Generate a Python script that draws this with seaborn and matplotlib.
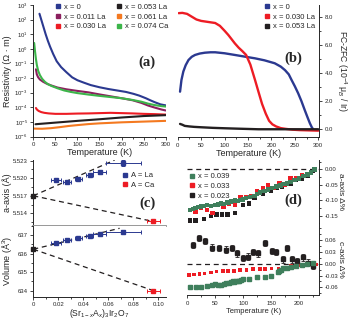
import numpy as np
import pandas as pd
import matplotlib
matplotlib.use("Agg")
import matplotlib.pyplot as plt
from matplotlib.lines import Line2D
from matplotlib.ticker import MultipleLocator, FixedLocator, NullLocator
import seaborn as sns

sns.set_style("ticks")
plt.rcParams['font.family'] = ['Liberation Sans', 'DejaVu Sans']
plt.rcParams['mathtext.fontset'] = 'custom'
plt.rcParams['mathtext.rm'] = 'Liberation Sans'
plt.rcParams['mathtext.it'] = 'Liberation Sans:italic'
plt.rcParams['axes.unicode_minus'] = False

NAVY = "#2b3990"
PURPLE = "#8b1f5e"
RED = "#ed1c24"
BLACK = "#231f20"
ORANGE = "#f47920"
GREEN = "#3cb54a"
DGREEN = "#3f7f5c"

# ---- (a) resistivity, log10(rho / Ohm m) vs T ----
T_x0 = [14, 18, 23, 28, 33, 38, 45, 53, 63, 75, 88, 100, 115, 130, 150, 170, 190, 210, 227, 240, 255, 265, 275, 288, 300]
lr_x0 = [2.4, 2.0, 1.5, 1.0, 0.55, 0.15, -0.35, -0.85, -1.25, -1.6, -1.95, -2.15, -2.32, -2.48, -2.63, -2.75, -2.85, -2.95, -3.08, -3.2, -3.38, -3.52, -3.65, -3.8, -3.87]
T_x011 = [6, 8, 11, 15, 22, 30, 40, 55, 75, 100, 125, 150, 175, 200, 225, 245, 260, 275, 290, 300]
lr_x011 = [-1.4, -1.75, -1.95, -2.1, -2.25, -2.38, -2.5, -2.65, -2.77, -2.88, -2.98, -3.12, -3.25, -3.38, -3.52, -3.7, -3.88, -4.02, -4.15, -4.22]
T_x030 = [6, 8, 12, 18, 25, 35, 50, 75, 100, 125, 150, 175, 200, 225, 250, 275, 300]
lr_x030 = [-4.05, -4.15, -4.25, -4.33, -4.38, -4.42, -4.45, -4.45, -4.43, -4.42, -4.4, -4.38, -4.4, -4.42, -4.45, -4.47, -4.5]
T_x053 = [5, 50, 100, 150, 200, 250, 300]
lr_x053 = [-5.16, -5.05, -4.93, -4.82, -4.7, -4.6, -4.54]
T_x061 = [2, 20, 40, 60, 80, 100, 125, 150, 200, 250, 300]
lr_x061 = [-5.46, -5.47, -5.43, -5.36, -5.28, -5.22, -5.15, -5.1, -5.03, -4.98, -4.93]
T_x074 = [2, 4, 6, 8, 11, 15, 20, 26, 33, 42, 55, 70, 85, 100, 125, 150, 175, 200, 225, 245, 260, 275, 290, 300]
lr_x074 = [0.4, -0.2, -0.7, -1.1, -1.5, -1.8, -2.05, -2.25, -2.42, -2.55, -2.7, -2.85, -2.95, -3.03, -3.13, -3.22, -3.3, -3.38, -3.5, -3.62, -3.75, -3.85, -3.92, -3.95]
labels_a = ["x = 0", "x = 0.011 La", "x = 0.030 La", "x = 0.053 La", "x = 0.061 La", "x = 0.074 Ca"]

# ---- (b) FC-ZFC ----
Tb_x0 = [5, 8, 12, 17, 23, 30, 37, 47, 58, 70, 80, 100, 122, 145, 165, 185, 207, 220, 229, 237, 243, 250, 257, 264, 271, 277, 282, 286, 289]
mb_x0 = [2.67, 3.5, 4.1, 4.55, 4.92, 5.15, 5.28, 5.38, 5.44, 5.47, 5.47, 5.4, 5.28, 5.15, 5.04, 4.9, 4.69, 4.45, 4.2, 3.9, 3.5, 3.05, 2.56, 2.0, 1.37, 0.85, 0.43, 0.15, 0.0]
Tb_x030 = [2, 10, 20, 30, 40, 50, 60, 70, 80, 90, 100, 108, 115, 122, 130, 138, 146, 155, 165, 172, 180, 188, 195, 202, 210, 220, 230, 245, 260, 280, 300]
mb_x030 = [8.25, 8.27, 8.2, 8.0, 7.8, 7.7, 7.65, 7.6, 7.55, 7.35, 7.0, 6.7, 6.4, 6.1, 5.8, 5.55, 5.28, 4.6, 3.5, 2.7, 1.8, 1.1, 0.6, 0.35, 0.2, 0.08, 0.03, -0.03, -0.06, -0.08, -0.1]
Tb_x053 = [5, 10, 15, 25, 35, 51, 75, 101, 130, 172, 220, 260, 300]
mb_x053 = [0.38, 0.32, 0.24, 0.2, 0.17, 0.14, 0.1, 0.07, 0.04, 0.0, 0.0, 0.0, 0.0]
labels_b = ["x = 0", "x = 0.030 La", "x = 0.053 La"]

# ---- (c) lattice vs doping ----
xLa = [0.018, 0.027, 0.036, 0.045, 0.053, 0.072]
xLa_err = [0.004, 0.003, 0.003, 0.003, 0.005, 0.014]
aLa = [5.5197, 5.5194, 5.5198, 5.5205, 5.5210, 5.5226]
aLa_err = [0.0002, 0.0002, 0.0002, 0.0002, 0.0002, 0.0005]
vLa = [636.55, 636.73, 636.86, 636.96, 637.05, 637.18]
vLa_err = [0.05, 0.05, 0.05, 0.05, 0.05, 0.08]
xCa = [0.096]
xCa_err = [0.005]
aCa = [5.5126]
aCa_err = [0.0003]
vCa = [634.0]
vCa_err = [0.06]
a0, v0 = 5.5170, 636.23
a_fit_La = [5.5170, 5.5231]
v_fit_La = [636.23, 637.36]
x_fit_La = [0.0, 0.065]
x_fit_La_v = [0.0, 0.069]

# ---- (d) lattice change vs T ----
Td_g = [5, 10, 15, 20, 25, 30, 35, 42, 50, 55, 60, 65, 72, 78, 85, 90, 95, 100, 105, 112, 120, 125, 130, 138, 145, 152, 160, 167, 172, 178, 185, 192, 200, 208, 215, 222, 228]
ad_g = [-0.13, -0.128, -0.125, -0.122, -0.12, -0.118, -0.115, -0.117, -0.115, -0.113, -0.11, -0.112, -0.107, -0.104, -0.1, -0.102, -0.098, -0.097, -0.093, -0.088, -0.085, -0.08, -0.075, -0.07, -0.065, -0.06, -0.055, -0.052, -0.048, -0.045, -0.04, -0.035, -0.03, -0.022, -0.017, -0.01, 0.0]
Td_r = [5, 15, 25, 35, 45, 55, 65, 75, 85, 95, 105, 115, 125, 135, 145, 155, 165, 175, 185, 195, 205, 215, 228]
ad_r = [-0.13, -0.135, -0.125, -0.13, -0.14, -0.115, -0.12, -0.11, -0.115, -0.09, -0.09, -0.085, -0.07, -0.06, -0.05, -0.06, -0.045, -0.05, -0.03, -0.03, -0.02, -0.015, 0.0]
Td_k = [5, 15, 30, 42, 52, 62, 72, 85, 100, 110, 120, 135, 150, 160, 170, 185, 195, 205, 215, 225]
ad_k = [-0.165, -0.165, -0.16, -0.15, -0.145, -0.145, -0.145, -0.14, -0.115, -0.11, -0.09, -0.08, -0.07, -0.06, -0.055, -0.045, -0.035, -0.03, -0.02, -0.005]

Tc_k = [11, 21, 31, 45, 57, 69, 80, 89, 100, 109, 118, 126, 140, 151, 158, 171, 179, 188, 197, 207, 216, 225]
cd_k = [0.047, 0.066, 0.057, 0.041, 0.04, 0.036, 0.039, 0.026, 0.014, 0.018, 0.029, 0.026, 0.052, 0.033, 0.03, 0.011, 0.039, 0.011, 0.007, 0.016, 0.003, -0.006]
Tc_r = [3, 12, 22, 31, 42, 52, 64, 73, 84, 94, 106, 118, 130, 139, 151, 163, 174, 186, 198, 210, 222, 230]
cd_r = [-0.029, -0.027, -0.026, -0.025, -0.022, -0.02, -0.019, -0.019, -0.018, -0.016, -0.016, -0.014, -0.014, -0.014, -0.012, -0.012, -0.01, -0.006, -0.003, -0.002, -0.002, -0.002]
Tc_g = [5, 15, 25, 35, 45, 50, 55, 60, 65, 70, 75, 78, 81, 84, 87, 90, 93, 96, 100, 110, 125, 140, 150, 162, 165, 168, 172, 178, 185, 195, 205, 215, 225]
cd_g = [-0.06, -0.058, -0.058, -0.057, -0.055, -0.052, -0.054, -0.055, -0.052, -0.05, -0.05, -0.047, -0.045, -0.047, -0.044, -0.043, -0.045, -0.042, -0.04, -0.038, -0.035, -0.033, -0.03, -0.022, -0.018, -0.015, -0.012, -0.01, -0.008, -0.006, -0.004, 0.0, 0.003]
labels_d = ["x = 0.039", "x = 0.033", "x = 0.023"]

W, H = 350, 319
def rect(x0, y0, x1, y1):
    return [x0 / W, 1 - y1 / H, (x1 - x0) / W, (y1 - y0) / H]

fig = plt.figure(figsize=(3.5, 3.19), dpi=100)
TICK = 4.3
LAB = 6.5

def style(ax):
    ax.tick_params(which='both', direction='out', labelsize=TICK, width=0.6, pad=1.5)
    ax.tick_params(which='major', length=2.5)
    ax.tick_params(which='minor', length=1.5)
    for s in ax.spines.values():
        s.set_linewidth(0.7)

def sq(c, l):
    return Line2D([0], [0], marker='s', ls='none', color=c, ms=3.2, label=l)

# ---------------- (a) ----------------
ax = fig.add_axes(rect(33.3, 5, 165.7, 136.5))
curves = [(T_x0, lr_x0, NAVY), (T_x011, lr_x011, PURPLE), (T_x030, lr_x030, RED),
          (T_x053, lr_x053, BLACK), (T_x061, lr_x061, ORANGE), (T_x074, lr_x074, GREEN)]
for T, lr, c in curves:
    sns.lineplot(x=T, y=10.0 ** np.array(lr), ax=ax, color=c, lw=1.5)
ax.set_yscale('log')
ax.set_ylim(1e-6, 1e3)
ax.set_xlim(0, 300)
ax.yaxis.set_major_locator(FixedLocator(10.0 ** np.arange(-6, 4)))
ax.yaxis.set_minor_locator(NullLocator())
ax.set_yticklabels(["10$^{%d}$" % e for e in range(-6, 4)])
ax.xaxis.set_major_locator(MultipleLocator(50))
ax.xaxis.set_minor_locator(MultipleLocator(25))
sns.despine(ax=ax)
style(ax)
ax.set_xlabel("Temperature (K)", fontsize=LAB, labelpad=1)
ax.set_ylabel("Resistivity (Ω · m)", fontsize=LAB, va='center')
ax.yaxis.set_label_coords(-0.195, 0.5)
ax.legend(handles=[sq(c, l) for (_, _, c), l in zip(curves, labels_a)], ncol=2,
          loc='upper left', bbox_to_anchor=(0.125, 1.05), frameon=False, fontsize=5.5,
          handlelength=0.8, handletextpad=0.4, columnspacing=1.2, labelspacing=0.3,
          borderpad=0.2)
fig.text(147 / W, 1 - 62 / H, "(a)", family='Liberation Serif', weight='bold',
         fontsize=10.5, ha='center', va='center')

# ---------------- (b) ----------------
ax = fig.add_axes(rect(177.7, 5, 319, 137))
bcurves = [(Tb_x0, mb_x0, NAVY), (Tb_x030, mb_x030, RED), (Tb_x053, mb_x053, BLACK)]
for T, m, c in bcurves:
    sns.lineplot(x=T, y=m, ax=ax, color=c, lw=1.7)
ax.set_xlim(0, 301.5)
ax.set_ylim(-0.55, 8.83)
ax.yaxis.tick_right()
ax.yaxis.set_label_position('right')
ax.spines['left'].set_visible(False)
ax.spines['top'].set_visible(False)
ax.xaxis.set_major_locator(MultipleLocator(50))
ax.xaxis.set_minor_locator(MultipleLocator(25))
ax.yaxis.set_major_locator(FixedLocator([0, 2, 4, 6, 8]))
ax.yaxis.set_minor_locator(MultipleLocator(1))
ax.set_yticklabels(["0.0", "2.0", "4.0", "6.0", "8.0"])
style(ax)
ax.set_xlabel("Temperature (K)", fontsize=LAB, labelpad=1)
ax.set_ylabel("FC-ZFC (10$^{-4}$ μ$_B$ / Ir)", fontsize=6.2, rotation=270, va='center')
ax.yaxis.set_label_coords(1.16, 0.5)
ax.legend(handles=[sq(c, l) for (_, _, c), l in zip(bcurves, labels_b)],
          loc='upper left', bbox_to_anchor=(0.57, 1.05), frameon=False, fontsize=5.5,
          handlelength=0.8, handletextpad=0.4, labelspacing=0.3, borderpad=0.2)
fig.text(293 / W, 1 - 58 / H, "(b)", family='Liberation Serif', weight='bold',
         fontsize=10.5, ha='center', va='center')

# ---------------- (c) ----------------
eb = dict(fmt='s', ms=3, capsize=1.3, elinewidth=0.7, capthick=0.7)
ax1 = fig.add_axes(rect(33.3, 160, 165.7, 225.7))
ax2 = fig.add_axes(rect(33.3, 225.7, 165.7, 296.7))
sns.lineplot(x=x_fit_La, y=a_fit_La, ax=ax1, color=BLACK, lw=0.9, linestyle=(0, (4, 3)))
sns.lineplot(x=[0, xCa[0]], y=[a0, aCa[0]], ax=ax1, color=BLACK, lw=0.9, linestyle=(0, (4, 3)))
ax1.errorbar(xLa, aLa, xerr=xLa_err, yerr=aLa_err, color=NAVY, **eb)
ax1.errorbar(xCa, aCa, xerr=xCa_err, yerr=aCa_err, color=RED, **eb)
ax1.plot([0], [a0], 's', color=BLACK, ms=3.5, clip_on=False)
ax1.set_xlim(0, 0.1059)
ax1.set_ylim(5.51188, 5.52312)
ax1.yaxis.set_major_locator(FixedLocator([5.514, 5.517, 5.520, 5.523]))
ax1.yaxis.set_minor_locator(MultipleLocator(0.0015))
ax1.set_yticklabels(["5.514", "5.517", "5.520", "5.523"])
ax1.spines['top'].set_visible(False)
ax1.spines['right'].set_visible(False)
style(ax1)
ax1.spines['bottom'].set_color('#909090')
ax1.spines['bottom'].set_linewidth(1.3)
ax1.tick_params(axis='x', bottom=False, labelbottom=False, which='both')
ax1.set_ylabel("a-axis (Å)", fontsize=LAB, va='center')
ax1.yaxis.set_label_coords(-0.195, 0.5)
ax1.legend(handles=[sq(NAVY, "A = La"), sq(RED, "A = Ca")], loc='upper left',
           bbox_to_anchor=(0.63, 0.9), frameon=False, fontsize=5.5, handlelength=0.8,
           handletextpad=0.4, labelspacing=0.3, borderpad=0.2)
fig.text(148 / W, 1 - 203 / H, "(c)", family='Liberation Serif', weight='bold',
         fontsize=10.5, ha='center', va='center')

sns.lineplot(x=x_fit_La_v, y=v_fit_La, ax=ax2, color=BLACK, lw=0.9, linestyle=(0, (4, 3)))
sns.lineplot(x=[0, xCa[0]], y=[v0, vCa[0]], ax=ax2, color=BLACK, lw=0.9, linestyle=(0, (4, 3)))
ax2.errorbar(xLa, vLa, xerr=xLa_err, yerr=vLa_err, color=NAVY, **eb)
ax2.errorbar(xCa, vCa, xerr=xCa_err, yerr=vCa_err, color=RED, **eb)
ax2.plot([0], [v0], 's', color=BLACK, ms=3.5, clip_on=False)
ax2.set_xlim(0, 0.1059)
ax2.set_ylim(633.67, 637.5)
ax2.yaxis.set_major_locator(FixedLocator([634, 635, 636, 637]))
ax2.yaxis.set_minor_locator(MultipleLocator(0.5))
ax2.xaxis.set_major_locator(FixedLocator([0, 0.02, 0.04, 0.06, 0.08, 0.10]))
ax2.xaxis.set_minor_locator(MultipleLocator(0.01))
ax2.set_xticklabels(["0", "0.02", "0.04", "0.06", "0.08", "0.10"])
ax2.spines['top'].set_visible(False)
ax2.spines['right'].set_visible(False)
style(ax2)
ax2.set_ylabel("Volume (Å$^3$)", fontsize=LAB, va='center')
ax2.yaxis.set_label_coords(-0.195, 0.5)
ax2.set_xlabel("(Sr$_{1-x}$A$_x$)$_3$Ir$_2$O$_7$", fontsize=6.2, labelpad=0)

# ---------------- (d) ----------------
ax3 = fig.add_axes(rect(187.3, 160, 319, 223.3))
ax4 = fig.add_axes(rect(187.3, 223.3, 319, 295))
for ax in (ax3, ax4):
    ax.axhline(0, color=BLACK, lw=0.9, ls=(0, (4, 3)), zorder=1)
sns.scatterplot(x=Td_k, y=ad_k, ax=ax3, marker='s', s=10, color=BLACK, edgecolor='none', zorder=3)
sns.scatterplot(x=Td_r, y=ad_r, ax=ax3, marker='s', s=10, color=RED, edgecolor='none', zorder=3)
sns.scatterplot(x=Td_g, y=ad_g, ax=ax3, marker='s', s=10, color=DGREEN, edgecolor='none', zorder=4)
ax3.set_xlim(0, 235.8)
ax3.set_ylim(-0.1734, 0.0299)
ax3.yaxis.tick_right()
ax3.yaxis.set_label_position('right')
ax3.yaxis.set_major_locator(FixedLocator([-0.15, -0.10, -0.05, 0.0]))
ax3.yaxis.set_minor_locator(MultipleLocator(0.025))
ax3.set_yticklabels(["-0.15", "-0.10", "-0.05", "0.00"])
ax3.spines['left'].set_visible(False)
ax3.spines['top'].set_visible(False)
style(ax3)
ax3.tick_params(axis='x', bottom=False, labelbottom=False, which='both')
ax3.set_ylabel("a-axis Δ%", fontsize=6, rotation=270, va='center')
ax3.yaxis.set_label_coords(1.165, 0.5)
ax3.legend(handles=[sq(DGREEN, labels_d[0]), sq(RED, labels_d[1]), sq(BLACK, labels_d[2])],
           loc='upper left', bbox_to_anchor=(-0.03, 0.88), frameon=False, fontsize=5.5,
           handlelength=0.8, handletextpad=0.4, labelspacing=0.3, borderpad=0.2)
fig.text(293 / W, 1 - 200 / H, "(d)", family='Liberation Serif', weight='bold',
         fontsize=10.5, ha='center', va='center')

ebd = dict(fmt='s', ms=2.6, capsize=1.1, elinewidth=0.6, capthick=0.6)
ax4.errorbar(Tc_k, cd_k, yerr=0.008, color=BLACK, zorder=3, **ebd)
sns.scatterplot(x=Tc_r, y=cd_r, ax=ax4, marker='s', s=7, color=RED, edgecolor='none', zorder=3)
ax4.errorbar(Tc_g, cd_g, yerr=0.005, color=DGREEN, zorder=4, **ebd)
ax4.set_xlim(0, 235.8)
ax4.set_ylim(-0.0794, 0.1025)
ax4.yaxis.tick_right()
ax4.yaxis.set_label_position('right')
ax4.yaxis.set_major_locator(FixedLocator([-0.06, -0.03, 0.0, 0.03, 0.06]))
ax4.yaxis.set_minor_locator(MultipleLocator(0.015))
ax4.set_yticklabels(["-0.06", "-0.03", "0.00", "0.03", "0.06"])
ax4.xaxis.set_major_locator(MultipleLocator(50))
ax4.xaxis.set_minor_locator(MultipleLocator(25))
ax4.spines['left'].set_visible(False)
ax4.spines['top'].set_visible(False)
style(ax4)
ax4.set_ylabel("c-axis Δ%", fontsize=6, rotation=270, va='center')
ax4.yaxis.set_label_coords(1.165, 0.5)
ax4.set_xlabel("Temperature (K)", fontsize=5.5, labelpad=2)

fig.savefig("out.png", dpi=100)
